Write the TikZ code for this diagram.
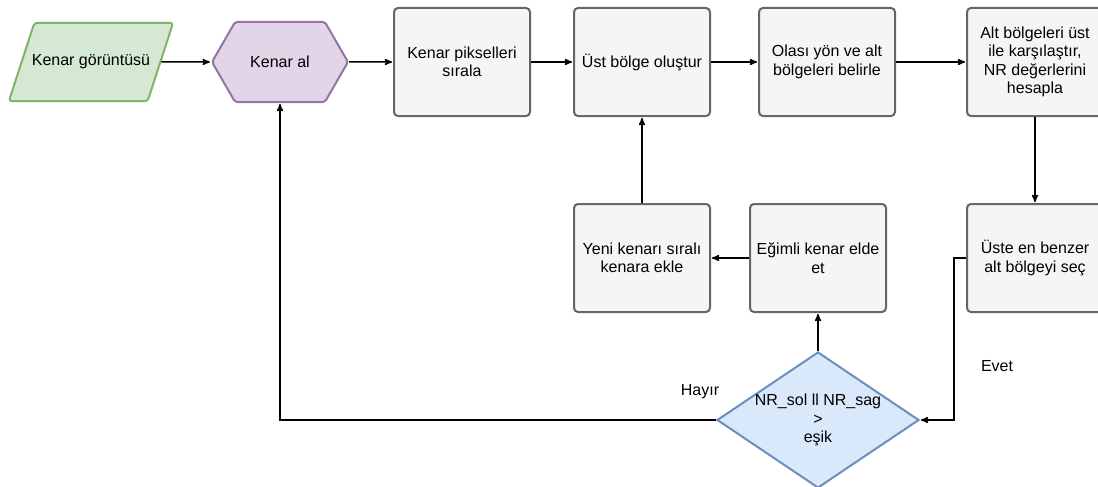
\documentclass[tikz,border=0pt]{standalone}
\usepackage{fontspec}
\setmainfont{Liberation Sans}
\usetikzlibrary{arrows,shapes.geometric,shapes.symbols}

\definecolor{yesilf}{HTML}{D5E8D4}
\definecolor{yesilc}{HTML}{82B366}
\definecolor{morf}{HTML}{E1D5E7}
\definecolor{morc}{HTML}{9673A6}
\definecolor{grif}{HTML}{F5F5F5}
\definecolor{gric}{HTML}{666666}
\definecolor{maviF}{HTML}{DAE8FC}
\definecolor{maviC}{HTML}{6C8EBF}

\tikzset{
  giris/.style={trapezium,trapezium left angle=72,trapezium right angle=108,
    inner xsep=-2.5pt,inner ysep=32pt,
    rounded corners=3pt,draw=yesilc,fill=yesilf,line width=2pt},
  altis/.style={signal,signal to=east and west,signal pointer angle=120,
    minimum width=136pt,minimum height=80pt,rounded corners=2pt,
    draw=morc,fill=morf,line width=2pt},
  islem/.style={rectangle,rounded corners=4pt,draw=gric,fill=grif,line width=2pt,
    minimum width=136pt,minimum height=108pt,align=center},
  karar/.style={diamond,draw=maviC,fill=maviF,line width=2pt,
    minimum width=202pt,minimum height=136pt,inner sep=0pt},
  ok/.style={->,line width=1.5pt}
}

\begin{document}
\begin{tikzpicture}[>=stealth',shorten >=1pt,auto,node distance=183pt,x=1pt,y=-1pt,
  font=\fontsize{16}{18.5}\selectfont]

\useasboundingbox (0,0) rectangle (1098,487);

\node[giris]   (kg) at (91,62)      				{Kenar görüntüsü};
\node[altis]   (ka)[right of=kg,node distance=189pt]      	{Kenar al};
\node[islem]   (ks)[right of=ka,node distance=182pt]      	{Kenar pikselleri\\sırala};
\node[islem]   (ub)[right of=ks,node distance=180pt]      	{Üst bölge oluştur};
\node[islem]   (oy)[right of=ub,node distance=185pt]      	{Olası yön ve alt\\bölgeleri belirle};
\node[islem]   (ab)[right of=oy,node distance=208pt]      	{Alt bölgeleri üst\\ile karşılaştır,\\NR değerlerini\\hesapla};
\node[islem]   (us)[below of=ab,node distance=196pt]      	{Üste en benzer\\alt bölgeyi seç};
\node[islem]   (ek)[left of=us,node distance=217pt]      	{Eğimli kenar elde\\et};
\node[islem]   (yk)[left of=ek,node distance=176pt]      	{Yeni kenarı sıralı\\kenara ekle};
\node[karar,label={[align=center]center:NR\_sol ll NR\_sag\\>\\eşik}]
               (nr)[below of=ek,node distance=162pt]      	{};

\node (evet) at (997,366) {Evet};
\node (hayir) at (700,392) {Hayır};

	\path[ok] (kg)  edge	  	(ka)
						(ka)  edge	  	(ks)
						(ks)  edge	  	(ub)
						(ub)  edge	  	(oy)
						(oy)  edge	  	(ab)
						(ab)  edge	  	(us)
						(nr)  edge	  	(ek)
						(ek)  edge	  	(yk)
						(yk)  edge	  	(ub);

	\draw[ok] (us.west) -- ++(-12,0) |- (nr.east);
	\draw[ok] (nr.west) -| (ka.south);

\end{tikzpicture}
\end{document}
